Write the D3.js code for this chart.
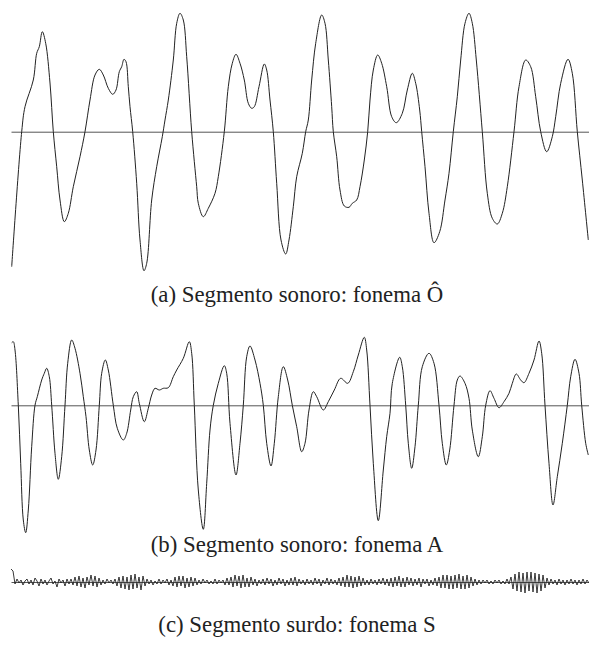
<!DOCTYPE html>
<html>
<head>
<meta charset="utf-8">
<script src="https://cdn.jsdelivr.net/npm/d3@7/dist/d3.min.js"></script>
<style>
  html, body { margin: 0; padding: 0; background: #fff; }
  svg { display: block; }
  .cap { font-family: "Liberation Serif", "DejaVu Serif", serif; font-size: 22.8px; fill: #222; }
</style>
</head>
<body>
<svg id="chart" width="589" height="656"></svg>
<script>
// ---- Panel (a): voiced segment, phoneme Ô (time in samples, amplitude in arbitrary units)
const timeA = [0.7,10.7,14,22.3,25.7,28.3,31.3,34.7,39,42.3,45.7,49,53.3,57.3,62.3,69,74,79,84,88.3,92.3,97.3,101.7,105,108.3,110.7,113,115,117.3,119,121.7,125.7,129,133,135.7,140.7,145.7,151.3,154,157.3,162.3,165.7,169,172.3,175.7,180.7,185.7,187.3,192.3,197.3,204,207.3,213.3,217.3,221.3,225,229,233.3,237.3,240.7,243.3,248,253.3,255.7,259,262.3,265.7,270,274.7,278,282.3,285.7,291.3,294.7,297.3,300.7,304.7,310.7,314,317.3,320.7,322.3,325.7,329,333.3,338,341.3,345.7,349,353.3,356.7,359,362.3,366.7,370.7,375.7,380.7,385.3,391.3,396.3,401.3,404.7,408.7,410.7,414,418,423,428.7,434,438,442.3,446.3,449.7,454,458,461.3,465.3,471.3,476.3,481.3,486.3,491.3,496.3,503,508,514.7,519.7,524.7,529.7,535.7,541.3,544.7,549.7,557,561.3,566.3,571.3,577.3];
const ampA = [-135,0,25,51.7,78.4,85,100,88.4,48.7,0,-35,-68.3,-90,-81.6,-55,-25,0,31.7,56.7,62.4,56.7,43.4,37.4,41.7,60,65,72.4,70,45,25,0,-51.6,-108.3,-139,-131.6,-68.3,-35,-5,11.7,31.7,71.7,108.4,118.4,111.7,75,0,-55,-71.6,-85,-76.6,-61.6,-45,0,45,68.4,77.4,68.4,51.7,28.4,23.4,25,45,67.7,61.7,31.7,0,-51.6,-108.3,-122.3,-108.3,-75,-45,-21.6,0,11.7,51.7,88.4,116.7,108.4,71.7,25,0,-25,-58.3,-74.3,-75.6,-71.6,-68.3,-55,-28.3,0,31.7,61.7,76.7,68.4,45,15,9,18.4,41.7,58.4,48.4,21.7,0,-35,-81.6,-111,-100,-68.3,-41.6,0,35,71.7,108.4,118.4,108.4,71.7,0,-61.6,-86.6,-92.3,-81.6,-55,0,45,71.7,65,35,0,-20,-5,15,48.4,72.4,58.4,0,-48.3,-108.3];

// ---- Panel (b): voiced segment, phoneme A
const timeB = [0.7,2.3,4,7.3,9.7,12.3,14.7,17.3,20.7,24,26.3,30.7,33.3,35.7,38.3,40.7,44,47.3,50.7,54,56.7,60.7,64,69,72.3,75,78.3,81.7,85,88.3,90.7,94.3,97.3,102.3,106.3,112.3,115.7,119.7,122.3,125.7,128.3,133.3,137.3,140.7,144,148.3,152.3,157.3,162.3,165.7,172.3,178.3,180.7,183.3,187.3,192.3,195.7,199,202.3,207.3,213.3,215.7,219,225,229,232.3,235.7,239,244,249,252.3,255.7,260,263.3,267.3,272.3,276.7,281.3,285.7,290.7,294,298,302.3,305.7,312.3,317.3,323.3,329.7,336.7,342.3,347.3,353.3,355.7,359,362.3,367.3,372.3,375.7,379,381.3,388.7,391.3,394.7,397.3,400.7,404,407.3,411.3,418,423,428,431.3,435.3,438.7,443,446.3,449,454,458,461.3,467.3,471.3,474.7,479,483,488,493,498,501.3,505.3,509.7,513,518,523,528,530.7,534,538,542,546.3,551.3,556.3,559.7,564,568,570.7,574.7,577.3];
const ampB = [62.6,63.6,55.3,0,-58,-114.7,-127.4,-104.7,-41.4,0,8.6,25.3,32,37,28.6,0,-48,-74,-51.4,0,42,65.3,57,32,8.6,-11.4,-44.7,-59.7,-44.7,0,32,45.3,35.3,0,-23,-34.7,-28,-4.7,8.6,13.6,2,-16.4,-3,10.3,17,15.3,17,17.6,28.6,35.3,47,63.6,52,0,-84.7,-124,-78,-24.7,0,22,39.6,32,-18,-69.7,-38,0,48.6,59.3,45.3,22,0,-38,-60.7,-38,8.6,38.6,25.3,0,-21.4,-46.4,-38,-4.7,13.6,8.6,-4.7,3.6,15.3,27,22,33.6,50.3,68,55.3,0,-58,-115.4,-64.7,-31.4,-8,22,48,38.6,0,-38,-63,-41.4,0,38.6,52,42,0,-38,-59.7,-44.7,0,25.3,29.3,22,7,-24.7,-51.4,-31.4,0,14.6,7,-2.4,3.6,12,22,31.3,25.3,22.6,32,45.3,64.3,52,0,-58,-99.7,-71.4,-38,0,28.6,46,32,0,-38,-49.7];

// ---- Panel (c): unvoiced segment, phoneme S (one value every 2 samples)
const stepC = 2;
const ampC = [
  13,11,-2,3,-1,2,-3,1,3,-2,
  2,-3,4,1,-4,3,-2,2,-3,1,
  4,-2,1,-5,3,-1,2,-4,3,-2,
  3,-3,5,-4,6,-5,4,-6,5,-3,
  7,-4,6,-5,4,-3,2,-2,3,-1,
  2,-2,3,-4,5,-6,6,-7,5,-8,
  7,-7,8,-6,5,-8,6,-4,3,-2,
  2,-3,1,-2,3,-2,2,-1,3,-3,
  2,-4,5,-5,6,-4,6,-6,4,-5,
  5,-4,4,-3,2,-2,3,-1,2,-2,
  1,-2,3,-2,2,-1,2,-3,4,-3,
  5,-5,7,-4,6,-6,7,-5,4,-5,
  5,-3,3,-4,2,-2,3,-3,4,-2,
  3,-4,2,-3,4,-2,3,-4,2,-3,
  4,-3,5,-4,3,-2,2,-3,3,-2,
  2,-3,4,-2,3,-4,2,-2,4,-3,
  3,-2,2,-3,4,-4,5,-5,7,-5,
  6,-6,5,-5,6,-4,4,-3,2,-3,
  3,-2,2,-3,3,-2,4,-3,3,-4,
  4,-5,5,-4,6,-5,4,-5,5,-3,
  4,-4,3,-3,4,-5,3,-2,3,-4,
  2,-3,4,-4,5,-6,7,-6,7,-7,
  6,-7,7,-6,8,-7,6,-7,7,-6,
  5,-4,3,-3,2,-2,2,-1,2,-2,
  1,-2,2,-1,2,-2,1,-2,3,-2,
  5,-7,8,-9,10,-10,9,-11,10,-9,
  10,-10,9,-11,8,-9,7,-6,4,-3,
  3,-2,2,-3,3,-2,2,-3,2,-2,
  3,-2,2,-3,2,-2,3,-2,2,-1
];

const captions = [
  "(a) Segmento sonoro: fonema Ô",
  "(b) Segmento sonoro: fonema A",
  "(c) Segmento surdo: fonema S"
];

// ---- Drawing
const svg = d3.select("#chart");
const x = d3.scaleLinear().domain([0, 578]).range([11, 589]);

const yA = d3.scaleLinear().domain([-140, 120]).range([271.7, 11.7]);
const yB = d3.scaleLinear().domain([-130, 70]).range([535.3, 335.3]);
const yC = d3.scaleLinear().domain([-15, 15]).range([597, 567]);

const dataA = timeA.map((t, i) => [t, ampA[i]]);
const dataB = timeB.map((t, i) => [t, ampB[i]]);
const dataC = ampC.map((v, i) => [i * stepC, v]);

function zeroAxis(y) {
  const ax = d3.axisBottom(x).tickValues([]).tickSizeOuter(0);
  const g = svg.append("g").attr("transform", `translate(0,${y(0)})`).call(ax);
  g.select(".domain").attr("stroke", "#555").attr("stroke-width", 1);
}

function wave(data, y, curve, w) {
  const line = d3.line().x(d => x(d[0])).y(d => y(d[1])).curve(curve);
  svg.append("path").datum(data)
    .attr("d", line)
    .attr("fill", "none")
    .attr("stroke", "#222")
    .attr("stroke-width", w);
}

zeroAxis(yA);
wave(dataA, yA, d3.curveCatmullRom.alpha(0.5), 1);
zeroAxis(yB);
wave(dataB, yB, d3.curveCatmullRom.alpha(0.5), 1);
zeroAxis(yC);
wave(dataC, yC, d3.curveLinear, 0.9);

const capY = [302, 552, 632];
captions.forEach((c, i) => {
  svg.append("text").attr("class", "cap")
    .attr("x", 297).attr("y", capY[i])
    .attr("text-anchor", "middle")
    .text(c);
});
</script>
</body>
</html>
